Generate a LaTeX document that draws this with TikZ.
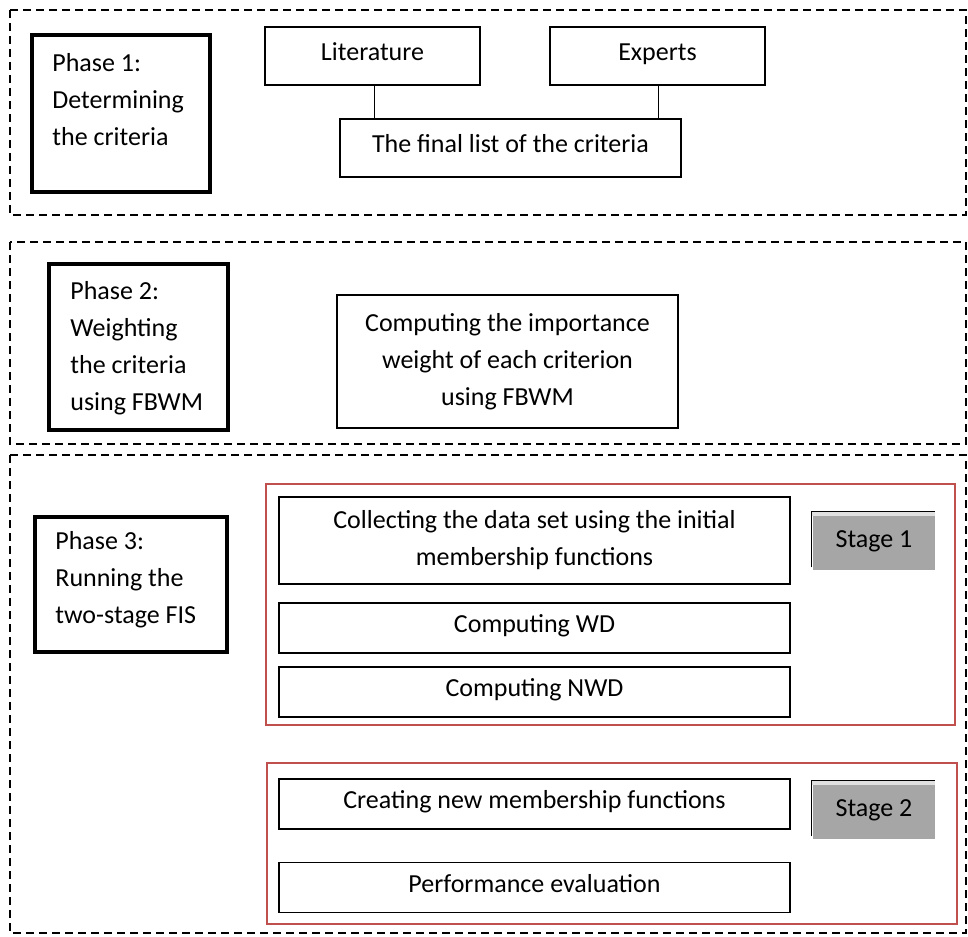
\documentclass[tikz,border=0pt]{standalone}
\usepackage{fontspec}
\setmainfont{Carlito}
\usetikzlibrary{positioning}
\definecolor{framered}{RGB}{192,80,77}
\definecolor{stagegray}{RGB}{166,166,166}

\begin{document}
\begin{tikzpicture}[x=0.5pt, y=-0.5pt, font=\fontsize{13pt}{18.5pt}\selectfont]
    \tikzstyle{phase} = [draw, line width=2pt, inner sep=0pt]
    \tikzstyle{phasetext} = [anchor=west, align=left, inner sep=0pt]
    \tikzstyle{task} = [draw, line width=0.6pt, align=center, inner sep=0pt, minimum height=29pt]
    \tikzstyle{taskline} = [task, text height=0.7em, text depth=0.25em]
    \tikzstyle{stage} = [fill=stagegray, minimum width=61pt, minimum height=27pt, inner sep=0pt,
        text height=0.7em, text depth=0.25em]
    \tikzstyle{phasegroup} = [line width=0.7pt, dash pattern=on 4pt off 2.5pt]
    \tikzstyle{stageframe} = [draw=framered, line width=1pt]
    \useasboundingbox (0,0) rectangle (968,936);

    % the three phases
    \draw[phasegroup] (10,10) rectangle (966,215);
    \draw[phasegroup] (10,242) rectangle (966,444);
    \draw[phasegroup] (10,455) rectangle (966,933);

    % phase 1
    \node[phase, minimum width=89pt, minimum height=78.5pt] (ph1) at (121,113.5) {};
    \node[phasetext] (ph1text) at (52,100) {Phase 1:\\Determining\\the criteria};
    \node[taskline, minimum width=107.5pt] (lit) at (372.5,56) {Literature};
    \node[taskline, minimum width=107.5pt] (exp) at (657.5,56) {Experts};
    \node[taskline, minimum width=170.5pt] (final) at (510.5,148) {The final list of the criteria};
    \draw[line width=0.8pt] ([xshift=1pt]lit.south) -- ([xshift=1pt]lit.south |- final.north);
    \draw[line width=0.8pt] ([xshift=0.5pt]exp.south) -- ([xshift=0.5pt]exp.south |- final.north);

    % phase 2
    \node[phase, minimum width=89.5pt, minimum height=83pt] (ph2) at (138.5,347) {};
    \node[phasetext] (ph2text) at (70,348) {Phase 2:\\Weighting\\the criteria\\using FBWM};
    \node[task, minimum width=170.5pt, minimum height=66.5pt] (weight) at (507.5,361.5)
        {Computing the importance\\weight of each criterion\\using FBWM};

    % phase 3
    \node[phase, minimum width=96pt, minimum height=67.5pt] (ph3) at (131,584.5) {};
    \node[phasetext] (ph3text) at (55,580) {Phase 3:\\Running the\\two-stage FIS};

    \draw[stageframe] (266,484) rectangle (955,725);
    \draw[stageframe] (267,763) rectangle (957,924);

    \node[task, minimum width=255.5pt, minimum height=43.5pt] (collect) at (534.5,540.5)
        {Collecting the data set using the initial\\membership functions};
    \node[taskline, minimum width=255.5pt, minimum height=25pt] (wd) at (534.5,628) {Computing WD};
    \node[taskline, minimum width=255.5pt, minimum height=25pt] (nwd) at (534.5,692) {Computing NWD};
    \node[taskline, minimum width=255.5pt, minimum height=25pt] (create) at (534.5,804) {Creating new membership functions};
    \node[taskline, minimum width=255.5pt, minimum height=25pt] (perf) at (534.5,887.5) {Performance evaluation};

    % stage labels
    \node[stage] (st1) at (874,543) {Stage 1};
    \node[stage] (st2) at (874,812) {Stage 2};
    \fill[black!12] ([xshift=-0.5pt,yshift=2pt]st1.north west) rectangle (st1.north east);
    \fill[black!12] ([xshift=-0.5pt,yshift=2pt]st2.north west) rectangle (st2.north east);
    \draw[line width=0.6pt] ([xshift=-0.5pt,yshift=1.5pt]st1.south west) |- ([yshift=2pt]st1.north east);
    \draw[line width=0.6pt] ([xshift=-0.5pt,yshift=1.5pt]st2.south west) |- ([yshift=2pt]st2.north east);
\end{tikzpicture}
\end{document}
